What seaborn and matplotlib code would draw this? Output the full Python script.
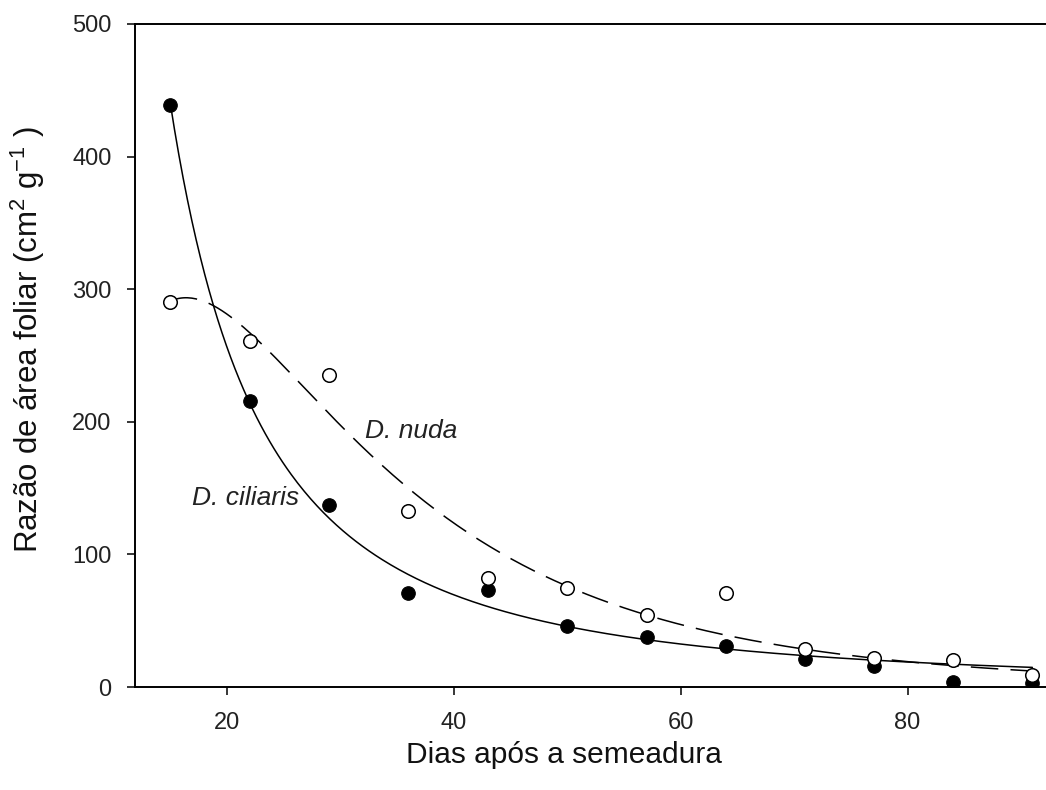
import numpy as np
import pandas as pd
import matplotlib
matplotlib.use("Agg")
import matplotlib.pyplot as plt
import seaborn as sns

# Leaf area ratio over days after sowing for two Digitaria species
dias = [15, 22, 29, 36, 43, 50, 57, 64, 71, 77, 84, 91]
ciliaris = [439, 216, 137, 71, 73, 46, 38, 31, 21, 16, 4, 3]
nuda = [290, 261, 235, 133, 82, 75, 54, 71, 29, 22, 20, 9]

x_ticks = [20, 40, 60, 80]
y_ticks = [0, 100, 200, 300, 400, 500]


def fit_power(x, y):
    """Least-squares fit of y = a * x**(-b)."""
    x = np.asarray(x, float)
    y = np.asarray(y, float)
    bs = np.arange(0.2, 4.0, 0.0005)
    F = x[None, :] ** (-bs[:, None])
    a = (F @ y) / (F * F).sum(1)
    sse = ((a[:, None] * F - y) ** 2).sum(1)
    i = int(np.argmin(sse))
    return a[i], bs[i]


def fit_lognormal(x, y):
    """Least-squares fit of the 3-parameter log-normal peak
    y = a * exp(-0.5 * (ln(x / x0) / b)**2)."""
    x = np.asarray(x, float)
    y = np.asarray(y, float)
    bs = np.arange(0.2, 2.0, 0.002)
    best = (np.inf, None)
    for x0 in np.arange(5.0, 30.0, 0.05):
        L = np.log(x / x0)
        G = np.exp(-0.5 * (L[None, :] / bs[:, None]) ** 2)
        a = (G @ y) / (G * G).sum(1)
        sse = ((a[:, None] * G - y) ** 2).sum(1)
        i = int(np.argmin(sse))
        if sse[i] < best[0]:
            best = (sse[i], (a[i], x0, bs[i]))
    return best[1]


a_c, b_c = fit_power(dias, ciliaris)
a_n, x0_n, b_n = fit_lognormal(dias, nuda)

xs = np.linspace(min(dias), max(dias), 400)
curves = pd.DataFrame({
    "dias": xs,
    "ciliaris": a_c * xs ** (-b_c),
    "nuda": a_n * np.exp(-0.5 * (np.log(xs / x0_n) / b_n) ** 2),
})
pts = pd.DataFrame({"dias": dias, "ciliaris": ciliaris, "nuda": nuda})

sns.set_theme(style="ticks")
plt.rcParams["font.family"] = ["Liberation Sans", "DejaVu Sans"]
plt.rcParams["mathtext.fontset"] = "custom"
plt.rcParams["mathtext.rm"] = "Liberation Sans"
plt.rcParams["mathtext.it"] = "Liberation Sans:italic"

fig = plt.figure(figsize=(10.46, 7.90), dpi=100)
ax = fig.add_axes([135 / 1046, 1 - 687 / 790, 1 - 135 / 1046, (687 - 24) / 790])

sns.lineplot(data=curves, x="dias", y="ciliaris", ax=ax, color="black",
             lw=1.1, zorder=2)
sns.lineplot(data=curves, x="dias", y="nuda", ax=ax, color="black",
             lw=1.1, zorder=2)
ax.lines[-1].set_dashes((18, 8))

sns.scatterplot(data=pts, x="dias", y="ciliaris", ax=ax, color="black",
                edgecolor="black", s=95, linewidth=0.8, zorder=3)
sns.scatterplot(data=pts, x="dias", y="nuda", ax=ax, color="white",
                edgecolor="black", s=95, linewidth=1.1, zorder=4)

ax.text(16.9, 142.5, "D. ciliaris", style="italic", fontsize=19,
        ha="left", va="center", color="#222222")
ax.text(32.2, 193, "D. nuda", style="italic", fontsize=19,
        ha="left", va="center", color="#222222")

ax.set_xlim(11.9, 92.2)
ax.set_ylim(0, 500)
ax.set_xticks(x_ticks)
ax.set_yticks(y_ticks)
ax.tick_params(axis="both", direction="out", length=6, width=1.1,
               labelsize=17, color="black", labelcolor="#222222")
ax.tick_params(axis="x", pad=12)
ax.tick_params(axis="y", pad=11)

for side in ("left", "bottom", "top"):
    ax.spines[side].set_linewidth(1.4)
    ax.spines[side].set_color("black")
ax.spines["right"].set_visible(False)

ax.set_xlabel("Dias após a semeadura", fontsize=21.5, color="#111111")
ax.set_ylabel("Razão de área foliar (cm$^2$ g$^{-1}$ )", fontsize=22.5,
              color="#111111")
ax.xaxis.set_label_coords((564 - 135) / 911, (687 - 741) / 663)
ax.yaxis.set_label_coords((47 - 135) / 911, (687 - 340) / 663)

fig.savefig("out.png", dpi=100)
